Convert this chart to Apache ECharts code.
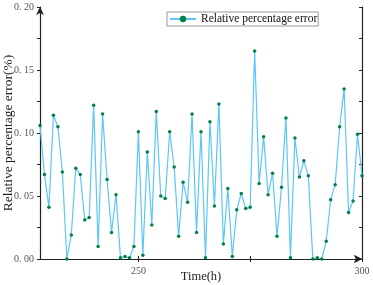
<!DOCTYPE html>
<html>
<head>
<meta charset="utf-8">
<script src="https://cdn.jsdelivr.net/npm/echarts@6/dist/echarts.min.js"></script>
<style>
  html, body { margin: 0; padding: 0; background: #fff; }
  #chart { width: 373px; height: 285px; }
</style>
</head>
<body>
<div id="chart"></div>
<script>
// hours 228..300
const startHour = 228;
const errors = [
  0.106, 0.067, 0.041, 0.114, 0.105, 0.069, 0.000, 0.019, 0.072, 0.067,
  0.031, 0.033, 0.122, 0.010, 0.115, 0.063, 0.021, 0.051, 0.001, 0.002,
  0.001, 0.010, 0.101, 0.003, 0.085, 0.027, 0.117, 0.050, 0.048, 0.101,
  0.073, 0.018, 0.061, 0.045, 0.115, 0.021, 0.101, 0.001, 0.109, 0.042,
  0.123, 0.012, 0.056, 0.002, 0.039, 0.052, 0.040, 0.041, 0.165, 0.060,
  0.097, 0.051, 0.068, 0.018, 0.057, 0.112, 0.001, 0.096, 0.065, 0.078,
  0.066, 0.000, 0.001, 0.000, 0.014, 0.047, 0.059, 0.105, 0.135, 0.037,
  0.046, 0.099, 0.066
];
const xLabelValues = [250, 300];
const xTickValues = [250, 275, 300];

const points = errors.map((v, i) => [startHour + i, v]);

const serif = 'Liberation Serif, Times New Roman, serif';
const axisColor = '#222';

const chart = echarts.init(document.getElementById('chart'));

chart.setOption({
  animation: false,
  grid: { left: 40, right: 11, top: 7, bottom: 26, outerBoundsMode: 'none', containLabel: false },
  legend: {
    left: 167,
    top: 12,
    padding: [1, 1, 1, 2],
    itemWidth: 26,
    itemHeight: 8,
    itemGap: 4,
    borderColor: '#9a9a9a',
    borderWidth: 1,
    borderRadius: 0,
    textStyle: { fontFamily: serif, fontSize: 11.5, color: '#111' },
    data: ['Relative percentage error']
  },
  xAxis: [{
    type: 'value',
    min: startHour,
    max: 300,
    name: 'Time(h)',
    nameLocation: 'middle',
    nameGap: 11,
    nameMoveOverlap: false,
    nameTextStyle: { fontFamily: serif, fontSize: 12.5, color: '#222' },
    axisLine: { lineStyle: { color: axisColor, width: 1.2 }, symbol: ['none', 'arrow'], symbolSize: [6, 8] },
    axisTick: { inside: true, length: 3, customValues: xTickValues, lineStyle: { color: axisColor } },
    axisLabel: { customValues: xLabelValues, margin: 7, fontFamily: serif, fontSize: 10, color: '#555' },
    splitLine: { show: false }
  }, {
    type: 'value',
    position: 'top',
    min: startHour,
    max: 300,
    axisLine: { lineStyle: { color: axisColor, width: 1.2 }, symbol: ['none', 'arrow'], symbolSize: [6, 8] },
    axisTick: { inside: true, length: 3, customValues: xTickValues, lineStyle: { color: axisColor } },
    axisLabel: { show: false },
    splitLine: { show: false }
  }],
  yAxis: [{
    type: 'value',
    min: 0,
    max: 0.2,
    interval: 0.05,
    name: 'Relative percentage error(%)',
    nameLocation: 'middle',
    nameGap: 25,
    nameMoveOverlap: false,
    nameTextStyle: { fontFamily: serif, fontSize: 13.5, color: '#222' },
    axisLine: { lineStyle: { color: axisColor, width: 1.2 }, symbol: ['none', 'arrow'], symbolSize: [6, 8] },
    axisTick: { inside: false, length: 3, lineStyle: { color: axisColor } },
    minorTick: { show: true, splitNumber: 2, length: 3, lineStyle: { color: axisColor } },
    axisLabel: {
      margin: 6,
      fontFamily: serif,
      fontSize: 10,
      color: '#555',
      formatter: v => v.toFixed(2).replace('.', '. ')
    },
    splitLine: { show: false }
  }, {
    type: 'value',
    position: 'right',
    min: 0,
    max: 0.2,
    interval: 0.05,
    axisLine: { lineStyle: { color: axisColor, width: 1.2 } },
    axisTick: { inside: true, length: 3, lineStyle: { color: axisColor } },
    minorTick: { show: true, splitNumber: 2, length: 3, lineStyle: { color: axisColor } },
    axisLabel: { show: false },
    splitLine: { show: false }
  }],
  series: [{
    name: 'Relative percentage error',
    type: 'line',
    data: points,
    symbol: 'circle',
    symbolSize: 3.5,
    showAllSymbol: true,
    lineStyle: { color: '#5cc6f7', width: 1.2 },
    itemStyle: { color: '#00804a' },
    z: 3
  }]
});
</script>
</body>
</html>
